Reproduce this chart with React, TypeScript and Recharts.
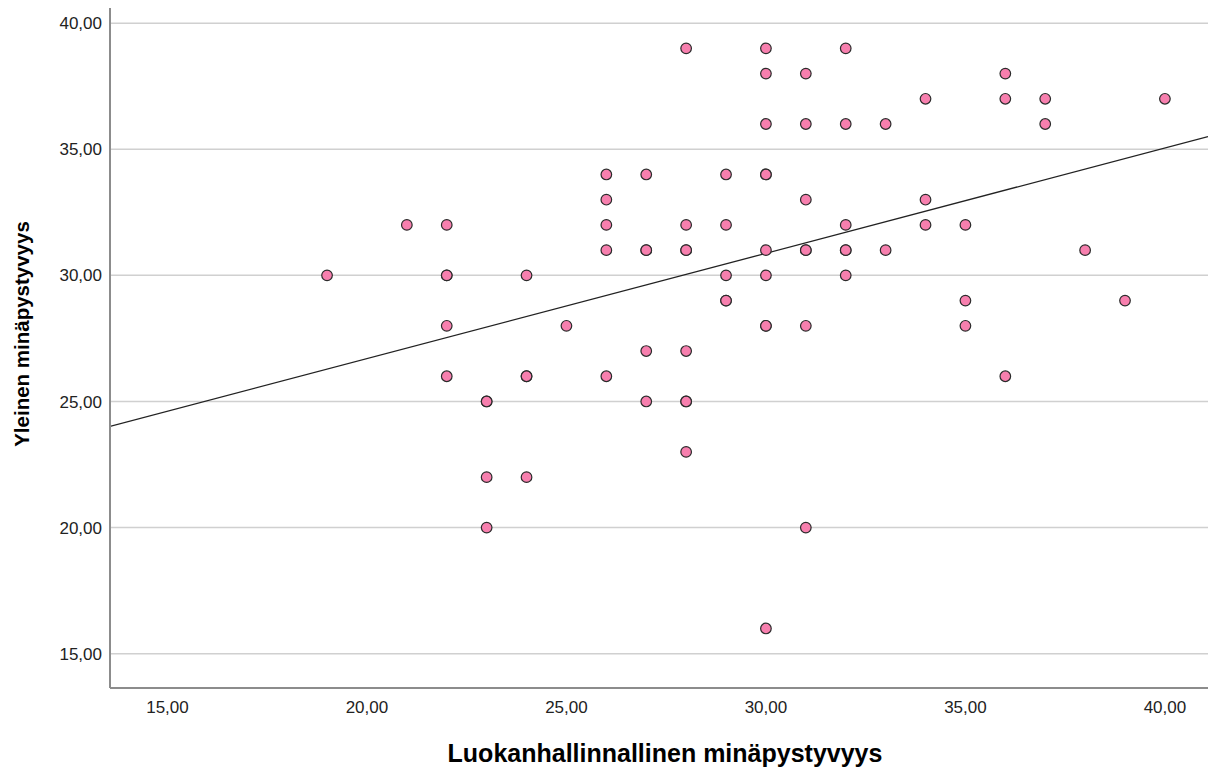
import React from "react";
import {
  ScatterChart,
  Scatter,
  XAxis,
  YAxis,
  CartesianGrid,
  ReferenceLine,
  Label,
} from "recharts";

// Luokanhallinnallinen minäpystyvyys (x) vs Yleinen minäpystyvyys (y)
const xValues = [
  19, 21,
  22, 22, 22, 22, 22,
  23, 23, 23, 23,
  24, 24, 24, 24,
  25,
  26, 26, 26, 26, 26,
  27, 27, 27, 27, 27,
  28, 28, 28, 28, 28, 28, 28, 28,
  29, 29, 29, 29, 29,
  30, 30, 30, 30, 30, 30, 30, 30, 30, 30,
  31, 31, 31, 31, 31, 31, 31,
  32, 32, 32, 32, 32, 32,
  33, 33,
  34, 34, 34,
  35, 35, 35,
  36, 36, 36,
  37, 37,
  38, 39, 40,
];
const yValues = [
  30, 32,
  32, 30, 30, 28, 26,
  25, 25, 22, 20,
  30, 26, 26, 22,
  28,
  34, 33, 32, 31, 26,
  34, 31, 31, 27, 25,
  39, 32, 31, 31, 27, 25, 25, 23,
  34, 32, 30, 29, 29,
  39, 38, 36, 34, 34, 31, 30, 28, 28, 16,
  38, 36, 33, 31, 31, 28, 20,
  39, 36, 32, 31, 31, 30,
  36, 31,
  37, 33, 32,
  32, 29, 28,
  38, 37, 26,
  37, 36,
  31, 29, 37,
];

const xTicks = [15, 20, 25, 30, 35, 40];
const yTicks = [15, 20, 25, 30, 35, 40];

// Fit line end points
const fitStart = { x: 13.56, y: 24.01 };
const fitEnd = { x: 41.08, y: 35.5 };

const xTitle = "Luokanhallinnallinen minäpystyvyys";
const yTitle = "Yleinen minäpystyvyys";

const points = xValues.map((x, i) => ({ x, y: yValues[i] }));

const fmt = (v: number) => v.toFixed(2).replace(".", ",");

const FONT = "Arial, 'Liberation Sans', sans-serif";

const Dot = (props: any) => {
  const { cx, cy } = props;
  if (cx == null || cy == null) return null;
  return <circle cx={cx} cy={cy} r={5.3} fill="#f77fae" stroke="#2b2b2b" strokeWidth={1.2} />;
};

const XTitle = (props: any) => {
  const vb = props.viewBox || {};
  const cx = (vb.x ?? 0) + (vb.width ?? 0) / 2 + 6;
  return (
    <text x={cx} y={762} textAnchor="middle" fill="#000" fontSize={25} fontWeight={700} fontFamily={FONT}>
      {xTitle}
    </text>
  );
};

const YTitle = (props: any) => {
  const vb = props.viewBox || {};
  const cy = (vb.y ?? 0) + (vb.height ?? 0) / 2 - 14;
  const x = 29;
  return (
    <text
      x={x}
      y={cy}
      transform={`rotate(-90, ${x}, ${cy})`}
      textAnchor="middle"
      fill="#000"
      fontSize={20.5}
      fontWeight={700}
      fontFamily={FONT}
    >
      {yTitle}
    </text>
  );
};

export default function App() {
  return (
    <div style={{ position: "absolute", left: 0, top: 0, background: "#fff" }}>
      <ScatterChart
        width={1208}
        height={771}
        margin={{ top: 8, right: 0, bottom: 0, left: 0 }}
      >
        <CartesianGrid
          horizontal
          vertical={false}
          horizontalValues={yTicks}
          stroke="#d0d0d0"
          strokeWidth={1.5}
        />
        <XAxis
          type="number"
          dataKey="x"
          domain={[13.56, 41.08]}
          allowDataOverflow
          ticks={xTicks}
          tickFormatter={fmt}
          tickLine={false}
          tickSize={0}
          axisLine={{ stroke: "#8c8c8c", strokeWidth: 2 }}
          tick={{ fill: "#222", fontSize: 17, fontFamily: FONT }}
          tickMargin={13}
          height={83}
        >
          <Label content={<XTitle />} />
        </XAxis>
        <YAxis
          type="number"
          dataKey="y"
          domain={[13.64, 40.6]}
          allowDataOverflow
          ticks={yTicks}
          tickFormatter={fmt}
          tickLine={false}
          tickSize={0}
          axisLine={{ stroke: "#8c8c8c", strokeWidth: 2 }}
          tick={{ fill: "#222", fontSize: 17, fontFamily: FONT }}
          tickMargin={8}
          width={110}
        >
          <Label content={<YTitle />} />
        </YAxis>
        <ReferenceLine
          segment={[fitStart, fitEnd]}
          stroke="#222"
          strokeWidth={1.3}
          ifOverflow="hidden"
        />
        <Scatter data={points} shape={<Dot />} isAnimationActive={false} />
      </ScatterChart>
    </div>
  );
}
